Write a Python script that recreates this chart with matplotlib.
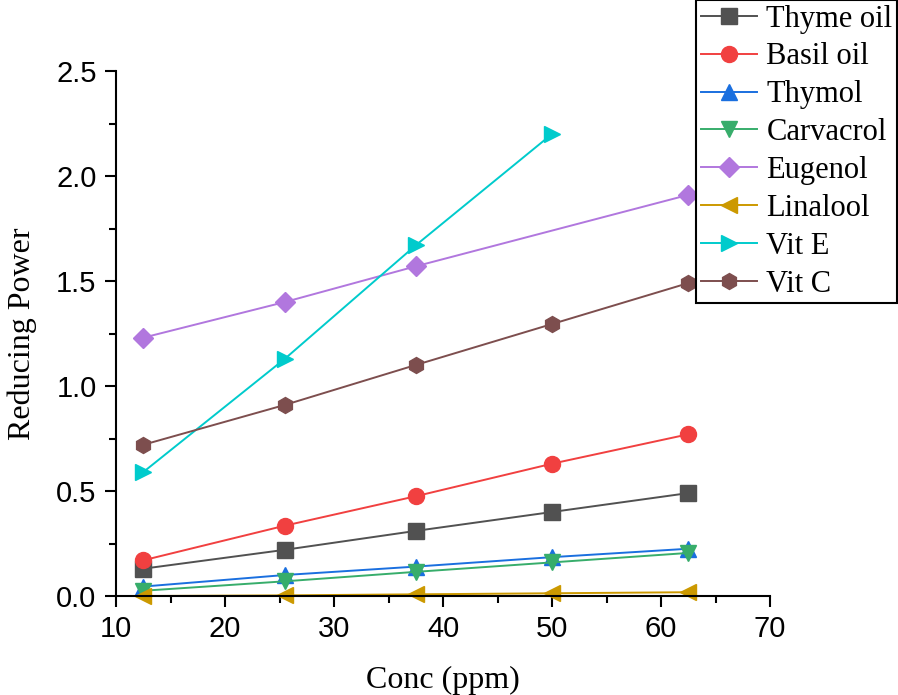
import matplotlib
matplotlib.use("Agg")
import matplotlib.pyplot as plt
from matplotlib.ticker import MultipleLocator

conc = [12.5, 25.5, 37.5, 50, 62.5]
thyme_oil = [0.13, 0.22, 0.31, 0.40, 0.49]
basil_oil = [0.17, 0.335, 0.475, 0.63, 0.77]
thymol = [0.045, 0.10, 0.14, 0.185, 0.225]
carvacrol = [0.025, 0.07, 0.115, 0.16, 0.205]
eugenol_x = [12.5, 25.5, 37.5, 62.5]
eugenol = [1.23, 1.40, 1.57, 1.91]
linalool = [0.0, 0.003, 0.008, 0.013, 0.018]
vite_x = [12.5, 25.5, 37.5, 50]
vit_e = [0.59, 1.13, 1.67, 2.20]
vit_c = [0.72, 0.91, 1.10, 1.295, 1.49]

series = [
    ("Thyme oil", conc, thyme_oil, "#515151", "s"),
    ("Basil oil", conc, basil_oil, "#F14040", "o"),
    ("Thymol", conc, thymol, "#1A6FDF", "^"),
    ("Carvacrol", conc, carvacrol, "#37AD6B", "v"),
    ("Eugenol", eugenol_x, eugenol, "#B177DE", "D"),
    ("Linalool", conc, linalool, "#CC9900", "<"),
    ("Vit E", vite_x, vit_e, "#00CBCC", ">"),
    ("Vit C", conc, vit_c, "#7D4E4E", "h"),
]

fig = plt.figure(figsize=(8.98, 6.95), dpi=100)
ax = fig.add_axes([116 / 898, 99 / 695, 654 / 898, 525 / 695])

for name, xs, ys, col, mk in series:
    ms = 10 if mk == "D" else 11.5
    ax.plot(xs, ys, color=col, marker=mk, markersize=ms, linewidth=1.4,
            label=name, clip_on=False)

ax.set_xlim(10, 70)
ax.set_ylim(0, 2.5)
ax.xaxis.set_major_locator(MultipleLocator(10))
ax.xaxis.set_minor_locator(MultipleLocator(5))
ax.yaxis.set_major_locator(MultipleLocator(0.5))
ax.yaxis.set_minor_locator(MultipleLocator(0.25))
ax.spines["top"].set_visible(False)
ax.spines["right"].set_visible(False)
for s in ["left", "bottom"]:
    ax.spines[s].set_linewidth(1.5)
ax.tick_params(which="major", direction="out", length=8, width=1.5)
ax.tick_params(which="minor", direction="out", length=5, width=1.5)
ax.tick_params(labelsize=21, pad=6)
for lab in ax.get_xticklabels() + ax.get_yticklabels():
    lab.set_family("Liberation Sans")
ax.yaxis.set_major_formatter(matplotlib.ticker.FormatStrFormatter("%.1f"))

ax.set_xlabel("Conc (ppm)", fontsize=23, family="Liberation Serif", labelpad=16)
ax.set_ylabel("Reducing Power", fontsize=23, family="Liberation Serif", labelpad=14)

leg = fig.legend(loc="upper right", bbox_to_anchor=(897 / 898, 1.0),
                 prop={"family": "Liberation Serif", "size": 22},
                 frameon=True, fancybox=False, edgecolor="black",
                 handlelength=1.85, handletextpad=0.3, labelspacing=0.29,
                 borderpad=0.15, borderaxespad=0.0, framealpha=1)
leg.get_frame().set_linewidth(1.5)

fig.savefig("out.png", dpi=100)
